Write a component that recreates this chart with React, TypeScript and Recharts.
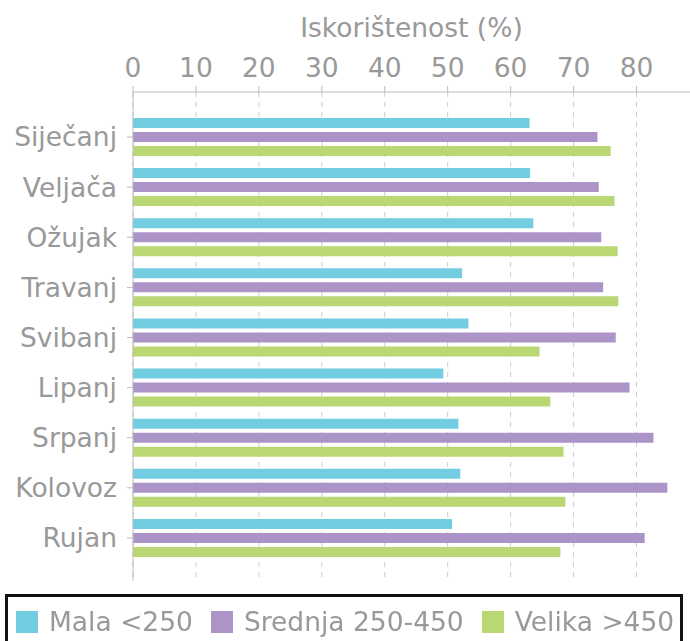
import React from 'react';
import { BarChart, Bar, XAxis, YAxis, CartesianGrid, Legend } from 'recharts';

const months = ['Siječanj', 'Veljača', 'Ožujak', 'Travanj', 'Svibanj', 'Lipanj', 'Srpanj', 'Kolovoz', 'Rujan'];
const mala = [63.0, 63.1, 63.6, 52.3, 53.3, 49.3, 51.7, 52.0, 50.7];
const srednja = [73.8, 74.0, 74.4, 74.7, 76.7, 78.9, 82.7, 84.9, 81.3];
const velika = [75.9, 76.5, 77.0, 77.1, 64.6, 66.3, 68.4, 68.7, 67.9];
const xTicks = [0, 10, 20, 30, 40, 50, 60, 70, 80];
const X_MAX = 88.5;

const SERIES = [
  { key: 'mala', name: 'Mala <250', color: '#72cde0' },
  { key: 'srednja', name: 'Srednja 250-450', color: '#ac93c8' },
  { key: 'velika', name: 'Velika >450', color: '#b9d874' },
];

const TEXT = '#999999';
const AXIS = '#bbbbbb';
const FONT = 'DejaVu Sans';
const FS = 26.5;

const data = months.map((m, i) => ({
  month: m,
  mala: mala[i],
  srednja: srednja[i],
  velika: velika[i],
}));

// only draw grid lines at the labelled ticks, not at the domain end
const gridX = ({ xAxis, offset }: any) =>
  xTicks.map((t) =>
    xAxis && typeof xAxis.scale === 'function'
      ? xAxis.scale(t)
      : offset.left + (t / X_MAX) * offset.width,
  );

function LegendBox() {
  return (
    <div
      style={{
        boxSizing: 'border-box',
        height: 50,
        width: 678,
        border: '3px solid #111',
        display: 'flex',
        alignItems: 'flex-start',
        paddingLeft: 8,
        paddingTop: 14,
        fontFamily: FONT,
        fontSize: FS,
        color: TEXT,
      }}
    >
      {SERIES.map((s) => (
        <div key={s.key} style={{ display: 'flex', alignItems: 'center', height: 22, marginRight: 18 }}>
          <span style={{ width: 22, height: 22, background: s.color, display: 'inline-block', marginRight: 11 }} />
          <span style={{ lineHeight: '22px', whiteSpace: 'nowrap' }}>{s.name}</span>
        </div>
      ))}
    </div>
  );
}

export default function App() {
  return (
    <div style={{ position: 'fixed', left: 0, top: 0, width: 690, height: 641, background: '#fff', fontFamily: FONT }}>
      <BarChart
        width={690}
        height={641}
        data={data}
        layout="vertical"
        margin={{ top: 0, right: 0, bottom: 10, left: 0 }}
        barSize={10}
        barGap={4}
      >
        <CartesianGrid
          horizontal={false}
          stroke="#cccccc"
          strokeDasharray="5 5"
          verticalCoordinatesGenerator={gridX}
        />
        <XAxis
          type="number"
          orientation="top"
          domain={[0, X_MAX]}
          ticks={xTicks}
          height={92}
          tickSize={6}
          tickMargin={9}
          stroke={AXIS}
          tick={{ fontSize: FS, fill: TEXT, fontFamily: FONT }}
          label={{ value: 'Iskorištenost (%)', position: 'insideTop', offset: 18, fill: TEXT, fontSize: FS, fontFamily: FONT }}
        />
        <YAxis
          type="category"
          dataKey="month"
          width={133}
          tickSize={6}
          tickMargin={10}
          stroke={AXIS}
          padding={{ top: 20, bottom: 18 }}
          tick={{ fontSize: FS, fill: TEXT, fontFamily: FONT }}
        />
        <Legend
          verticalAlign="bottom"
          content={() => <LegendBox />}
          wrapperStyle={{ top: 594, left: 5, bottom: 'auto', width: 678 }}
        />
        {SERIES.map((s) => (
          <Bar key={s.key} dataKey={s.key} name={s.name} fill={s.color} isAnimationActive={false} />
        ))}
      </BarChart>
    </div>
  );
}
